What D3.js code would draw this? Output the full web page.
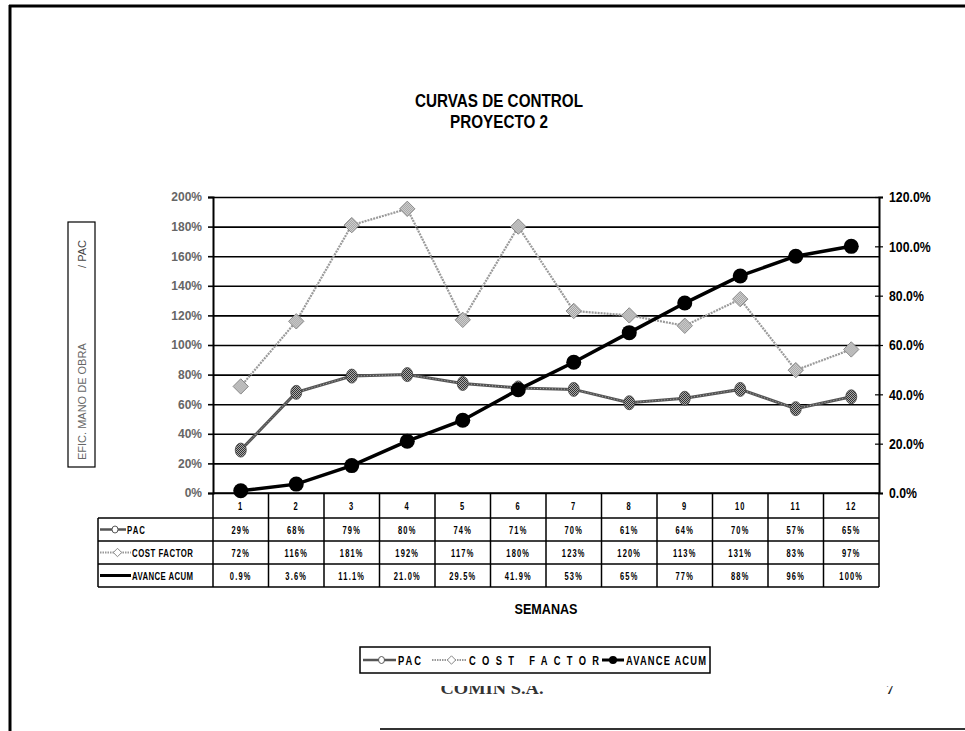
<!DOCTYPE html>
<html>
<head>
<meta charset="utf-8">
<script src="https://cdn.jsdelivr.net/npm/d3@7/dist/d3.min.js"></script>
<style>
  html, body { margin: 0; padding: 0; background: #fff; }
  svg { display: block; }
</style>
</head>
<body>
<svg id="chart" width="965" height="731"></svg>
<script>
// Weekly control curves, project 2
const weeks = ["1", "2", "3", "4", "5", "6", "7", "8", "9", "10", "11", "12"];
const pac = [29, 68, 79, 80, 74, 71, 70, 61, 64, 70, 57, 65];
const costFactor = [72, 116, 181, 192, 117, 180, 123, 120, 113, 131, 83, 97];
const avanceLabels = ["0.9%", "3.6%", "11.1%", "21.0%", "29.5%", "41.9%", "53%", "65%", "77%", "88%", "96%", "100%"];
const avance = avanceLabels.map(s => parseFloat(s));
const leftTicks = [0, 20, 40, 60, 80, 100, 120, 140, 160, 180, 200];
const rightTicks = [0, 20, 40, 60, 80, 100, 120];
const seriesNames = ["PAC", "COST FACTOR", "AVANCE ACUM"];

const SANS = "'Liberation Sans', Arial, sans-serif";
const svg = d3.select("#chart");

// condensed bold text: a regular bold face squeezed horizontally
function ntext(parent, x, y, str, size, anchor, sx, extra) {
  const t = parent.append("text")
    .attr("transform", `translate(${x},${y}) scale(${sx},1)`)
    .attr("font-family", SANS).attr("font-weight", "bold")
    .attr("font-size", size).attr("text-anchor", anchor || "middle").text(str);
  if (extra) extra(t);
  return t;
}
// condensed, letter-spaced text spread over a given width
function spaced(parent, x, y, str, size, width) {
  const sx = 0.78;
  return ntext(parent, x, y, str, size, "start", sx,
    t => t.attr("textLength", width / sx).attr("lengthAdjust", "spacing"));
}

// page frame
svg.append("line").attr("x1", 9).attr("x2", 965).attr("y1", 6).attr("y2", 6)
  .attr("stroke", "#000").attr("stroke-width", 3);
svg.append("line").attr("x1", 10).attr("x2", 10).attr("y1", 5).attr("y2", 731)
  .attr("stroke", "#000").attr("stroke-width", 3);
svg.append("line").attr("x1", 380).attr("x2", 965).attr("y1", 729).attr("y2", 729)
  .attr("stroke", "#333").attr("stroke-width", 2);

// grainy fills for the markers
const defs = svg.append("defs");
function speckle(id, a, b) {
  const p = defs.append("pattern").attr("id", id).attr("width", 2).attr("height", 2)
    .attr("patternUnits", "userSpaceOnUse");
  p.append("rect").attr("width", 2).attr("height", 2).attr("fill", b);
  p.append("rect").attr("width", 1).attr("height", 1).attr("fill", a);
  p.append("rect").attr("x", 1).attr("y", 1).attr("width", 1).attr("height", 1).attr("fill", a);
}
speckle("dotsDark", "#333", "#aaa");
speckle("dotsLight", "#888", "#eee");

const X0 = 213, X1 = 879, YT = 197, YB = 493;
const x = d3.scaleBand().domain(weeks).range([X0, X1]);
const yL = d3.scaleLinear().domain([0, 200]).range([YB, YT]);
const yR = d3.scaleLinear().domain([0, 120]).range([YB, YT]);
const cx = d => x(d) + x.bandwidth() / 2;

// title
ntext(svg, 499, 107, "CURVAS DE CONTROL", 18, "middle", 1, t => t.attr("textLength", 168).attr("lengthAdjust", "spacingAndGlyphs"));
ntext(svg, 499, 128, "PROYECTO 2", 18, "middle", 1, t => t.attr("textLength", 98).attr("lengthAdjust", "spacingAndGlyphs"));

// horizontal gridlines
svg.append("g").attr("transform", `translate(${X0},0)`)
  .call(d3.axisLeft(yL).tickValues(leftTicks).tickSize(-(X1 - X0)).tickFormat(""))
  .call(g => g.select(".domain").remove())
  .call(g => g.selectAll("line").attr("stroke", "#000").attr("stroke-width", 1.6));

// left axis
svg.append("g").attr("transform", `translate(${X0},0)`)
  .call(d3.axisLeft(yL).tickValues(leftTicks).tickSize(5).tickPadding(6).tickFormat(d => d + "%"))
  .call(g => g.select(".domain").attr("stroke", "#000").attr("stroke-width", 2))
  .call(g => g.selectAll("line").attr("stroke", "#000").attr("stroke-width", 1.6))
  .call(g => g.selectAll("text").attr("fill", "#666").attr("font-size", 12)
    .attr("font-family", SANS).attr("font-weight", "bold"));

// right axis
const sxR = 0.82;
svg.append("g").attr("transform", `translate(${X1},0)`)
  .call(d3.axisRight(yR).tickValues(rightTicks).tickSize(4).tickPadding(6).tickFormat(d => d3.format(".1f")(d) + "%"))
  .call(g => g.select(".domain").attr("stroke", "#000").attr("stroke-width", 2))
  .call(g => g.selectAll("line").attr("stroke", "#000").attr("stroke-width", 1.2).attr("x1", -4))
  .call(g => g.selectAll("text").attr("fill", "#000").attr("font-size", 15)
    .attr("font-family", SANS).attr("font-weight", "bold")
    .attr("x", 10 / sxR).attr("transform", `scale(${sxR},1)`));

// y-axis title box
svg.append("rect").attr("x", 68).attr("y", 222).attr("width", 27).attr("height", 245)
  .attr("fill", "none").attr("stroke", "#000").attr("stroke-width", 1.2);
svg.append("text").attr("transform", "translate(86,460) rotate(-90)")
  .attr("font-size", 11).attr("fill", "#666").attr("font-family", SANS)
  .text("EFIC. MANO DE OBRA");
svg.append("text").attr("transform", "translate(86,240) rotate(-90)").attr("text-anchor", "end")
  .attr("font-size", 11).attr("fill", "#444").attr("font-family", SANS)
  .text("/ PAC");

// series
const plot = svg.append("g");
const lineL = d3.line().x((d, i) => cx(weeks[i])).y(d => yL(d));
const lineR = d3.line().x((d, i) => cx(weeks[i])).y(d => yR(d));

// COST FACTOR
plot.append("path").attr("d", lineL(costFactor)).attr("fill", "none")
  .attr("stroke", "#9a9a9a").attr("stroke-width", 2.2).attr("stroke-dasharray", "2,1");
plot.selectAll(".diam").data(costFactor).join("path").attr("class", "diam")
  .attr("transform", (d, i) => `translate(${cx(weeks[i])},${yL(d)})`)
  .attr("d", d3.symbol().type(d3.symbolDiamond2).size(150))
  .attr("fill", "url(#dotsLight)").attr("stroke", "#888").attr("stroke-width", 1);

// PAC
plot.append("path").attr("d", lineL(pac)).attr("fill", "none")
  .attr("stroke", "#555").attr("stroke-width", 3);
plot.append("path").attr("d", lineL(pac)).attr("fill", "none")
  .attr("stroke", "#aaa").attr("stroke-width", 1).attr("stroke-dasharray", "1,2");
plot.selectAll(".pacm").data(pac).join("ellipse").attr("class", "pacm")
  .attr("cx", (d, i) => cx(weeks[i])).attr("cy", d => yL(d)).attr("rx", 5.5).attr("ry", 7)
  .attr("fill", "url(#dotsDark)").attr("stroke", "#444").attr("stroke-width", 0.8);

// AVANCE ACUM
plot.append("path").attr("d", lineR(avance)).attr("fill", "none")
  .attr("stroke", "#000").attr("stroke-width", 3.5);
plot.selectAll(".avm").data(avance).join("circle").attr("class", "avm")
  .attr("cx", (d, i) => cx(weeks[i])).attr("cy", d => yR(d)).attr("r", 7.5).attr("fill", "#000");

// data table
const rowY = [YB, 518, 541, 564, 587];
const LX = 98;
const tbl = svg.append("g").attr("stroke", "#000").attr("stroke-width", 1.5);
rowY.forEach((yy, i) => {
  tbl.append("line").attr("x1", i === 0 ? X0 : LX).attr("x2", X1).attr("y1", yy).attr("y2", yy);
});
x.domain().forEach(w => {
  tbl.append("line").attr("x1", x(w)).attr("x2", x(w)).attr("y1", YB).attr("y2", rowY[4]);
});
tbl.append("line").attr("x1", X1).attr("x2", X1).attr("y1", YB).attr("y2", rowY[4]);
tbl.append("line").attr("x1", LX).attr("x2", LX).attr("y1", rowY[1]).attr("y2", rowY[4]);

const cellText = (xx, yy, t) => ntext(svg, xx, yy, t, 10, "middle", 0.75, s => s.attr("letter-spacing", 1.6));

weeks.forEach(w => cellText(cx(w), (rowY[0] + rowY[1]) / 2 + 4, w));
const rows = [pac.map(v => v + "%"), costFactor.map(v => v + "%"), avanceLabels];
rows.forEach((vals, r) => {
  const yy = (rowY[r + 1] + rowY[r + 2]) / 2 + 4;
  vals.forEach((t, i) => cellText(cx(weeks[i]), yy, t));
});

// legend keys (used in the table and in the legend box)
function key(g, xx, yy, idx, len, withMarker) {
  if (idx === 0) {
    g.append("line").attr("x1", xx).attr("x2", xx + len).attr("y1", yy).attr("y2", yy)
      .attr("stroke", "#555").attr("stroke-width", 2.5);
    g.append("ellipse").attr("cx", xx + len / 2 + 2).attr("cy", yy).attr("rx", 3).attr("ry", 3.5)
      .attr("fill", "#fff").attr("stroke", "#555").attr("stroke-width", 1);
  } else if (idx === 1) {
    g.append("line").attr("x1", xx).attr("x2", xx + len).attr("y1", yy).attr("y2", yy)
      .attr("stroke", "#999").attr("stroke-width", 2).attr("stroke-dasharray", "1.5,1");
    g.append("path").attr("transform", `translate(${xx + len / 2 + 2},${yy})`)
      .attr("d", d3.symbol().type(d3.symbolDiamond2).size(45))
      .attr("fill", "#fff").attr("stroke", "#888").attr("stroke-width", 1);
  } else {
    g.append("line").attr("x1", xx).attr("x2", xx + len).attr("y1", yy).attr("y2", yy)
      .attr("stroke", "#000").attr("stroke-width", 3);
    if (withMarker) g.append("circle").attr("cx", xx + len / 2).attr("cy", yy).attr("r", 4).attr("fill", "#000");
  }
}
const keys = svg.append("g");
const rowTextW = [18, 61, 61];
const rowTextX = [127, 132, 132];
seriesNames.forEach((n, r) => {
  const yy = (rowY[r + 1] + rowY[r + 2]) / 2;
  key(keys, LX + 2, yy, r, rowTextX[r] - LX - 3, false);
  spaced(svg, rowTextX[r], yy + 4, n, 10, rowTextW[r]);
});

// x-axis title
ntext(svg, (X0 + X1) / 2, 614, "SEMANAS", 14, "middle", 1,
  t => t.attr("textLength", 63).attr("lengthAdjust", "spacingAndGlyphs"));

// legend box
svg.append("rect").attr("x", 360).attr("y", 647).attr("width", 350).attr("height", 26)
  .attr("fill", "#fff").attr("stroke", "#000").attr("stroke-width", 1.5);
const legendKeyX = [363, 432, 602];
const legendKeyW = [33, 35, 22];
const legendTextW = [23, 130, 80];
seriesNames.forEach((n, i) => {
  key(svg, legendKeyX[i], 660, i, legendKeyW[i], true);
  spaced(svg, legendKeyX[i] + legendKeyW[i] + 2, 665, n, 12, legendTextW[i]);
});

// footer (company name and page number, cut by the page edge)
svg.append("clipPath").attr("id", "footClip").append("rect")
  .attr("x", 0).attr("y", 686).attr("width", 965).attr("height", 30);
svg.append("text").attr("clip-path", "url(#footClip)").attr("x", 492).attr("y", 694)
  .attr("text-anchor", "middle").attr("font-size", 17).attr("font-weight", "bold")
  .attr("textLength", 103).attr("lengthAdjust", "spacingAndGlyphs")
  .attr("font-family", "'Liberation Serif', 'Times New Roman', serif").attr("fill", "#333")
  .text("COMIN S.A.");
svg.append("text").attr("clip-path", "url(#footClip)").attr("x", 890).attr("y", 694)
  .attr("text-anchor", "middle").attr("font-size", 15).attr("font-weight", "bold")
  .attr("font-family", "'Liberation Serif', 'Times New Roman', serif").attr("fill", "#222")
  .text("7");
</script>
</body>
</html>
